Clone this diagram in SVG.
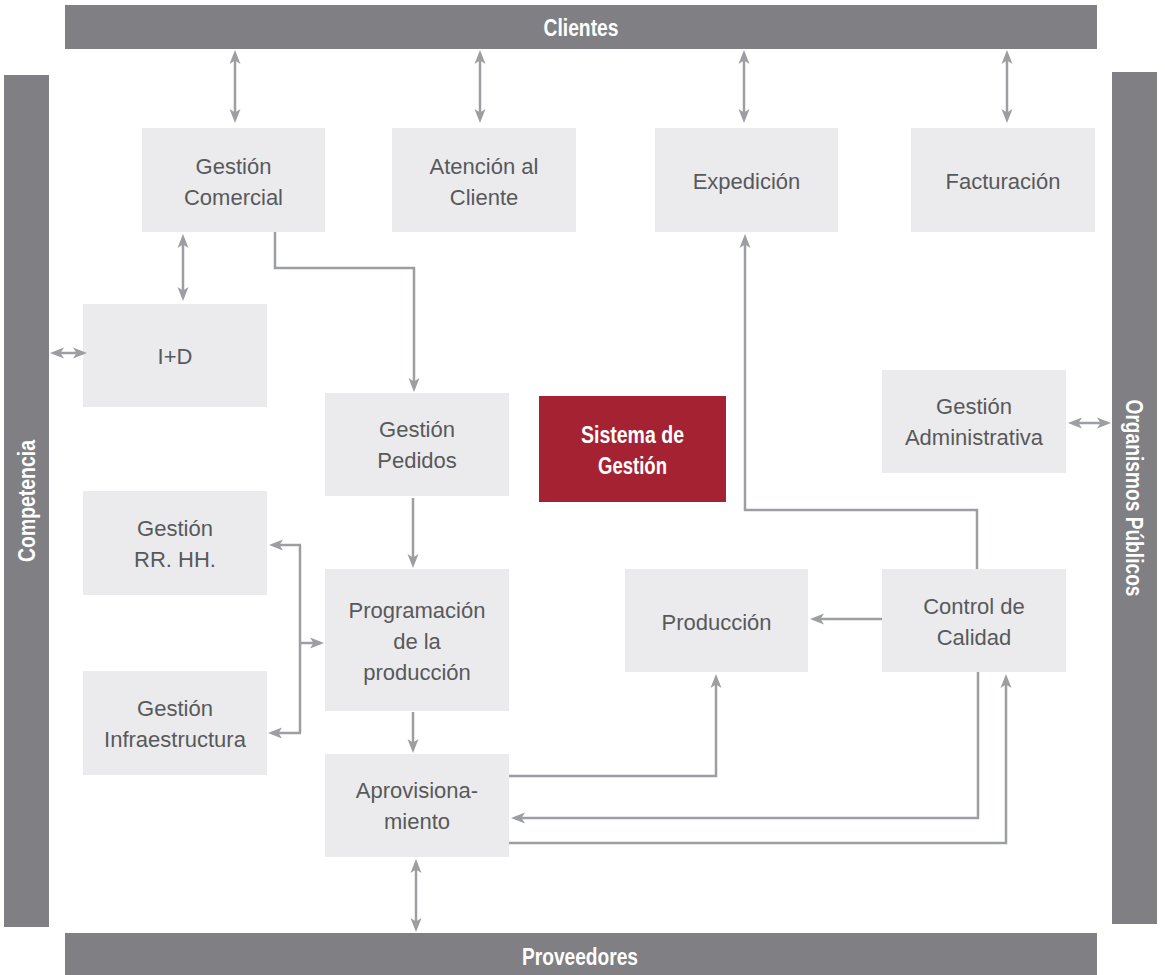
<svg xmlns="http://www.w3.org/2000/svg" width="1165" height="975" viewBox="0 0 1165 975">
<defs>
<style>
.bar{fill:#808084}
.box{fill:#ebebed}
.red{fill:#a52233}
.bt{font-family:"Liberation Sans",Arial,sans-serif;font-weight:bold;font-size:24px;fill:#ffffff;text-anchor:middle}
.nt{font-family:"Liberation Sans",Arial,sans-serif;font-size:22px;fill:#58595b;text-anchor:middle}
.st{font-family:"Liberation Sans",Arial,sans-serif;font-weight:bold;font-size:24px;fill:#ffffff;text-anchor:middle}
.c{fill:none;stroke:#9d9ea2;stroke-width:2.5}
.a{marker-end:url(#ah)}
.d{marker-start:url(#ah);marker-end:url(#ah)}
</style>
<marker id="ah" markerUnits="userSpaceOnUse" markerWidth="15" markerHeight="12" refX="10" refY="5.5" orient="auto-start-reverse" viewBox="0 0 15 11">
<path d="M0,0 L14,5.5 L0,11 L3.5,5.5 Z" fill="#9d9ea2"/>
</marker>
</defs>
<rect width="1165" height="975" fill="#ffffff"/>

<g id="clientes">
<rect class="bar" x="65" y="5" width="1032" height="44"/>
<text class="bt" x="581" y="36" textLength="75" lengthAdjust="spacingAndGlyphs">Clientes</text>
</g>
<g id="proveedores">
<rect class="bar" x="65" y="933" width="1032" height="42"/>
<text class="bt" x="580" y="965" textLength="116" lengthAdjust="spacingAndGlyphs">Proveedores</text>
</g>
<g id="competencia">
<rect class="bar" x="4" y="75" width="45" height="852"/>
<text class="bt" transform="translate(35,501) rotate(-90)" x="0" y="0" textLength="122" lengthAdjust="spacingAndGlyphs">Competencia</text>
</g>
<g id="organismos">
<rect class="bar" x="1112" y="72" width="45" height="852"/>
<text class="bt" transform="translate(1126,498) rotate(90)" x="0" y="0" textLength="197" lengthAdjust="spacingAndGlyphs">Organismos Públicos</text>
</g>

<g id="gestion-comercial">
<rect class="box" x="142" y="128" width="183" height="104"/>
<text class="nt" x="233.5" y="174">Gestión</text>
<text class="nt" x="233.5" y="205">Comercial</text>
</g>
<g id="atencion-cliente">
<rect class="box" x="392" y="128" width="184" height="104"/>
<text class="nt" x="484" y="174">Atención al</text>
<text class="nt" x="484" y="205">Cliente</text>
</g>
<g id="expedicion">
<rect class="box" x="655" y="128" width="183" height="104"/>
<text class="nt" x="746.5" y="189">Expedición</text>
</g>
<g id="facturacion">
<rect class="box" x="911" y="128" width="184" height="104"/>
<text class="nt" x="1003" y="189">Facturación</text>
</g>
<g id="id">
<rect class="box" x="83" y="304" width="184" height="103"/>
<text class="nt" x="175" y="364">I+D</text>
</g>
<g id="gestion-pedidos">
<rect class="box" x="325" y="393" width="184" height="103"/>
<text class="nt" x="417" y="437">Gestión</text>
<text class="nt" x="417" y="468">Pedidos</text>
</g>
<g id="sistema-gestion">
<rect class="red" x="539" y="396" width="187" height="106"/>
<text class="st" x="632.5" y="443" textLength="103" lengthAdjust="spacingAndGlyphs">Sistema de</text>
<text class="st" x="632.5" y="474" textLength="69" lengthAdjust="spacingAndGlyphs">Gestión</text>
</g>
<g id="gestion-administrativa">
<rect class="box" x="882" y="370" width="184" height="103"/>
<text class="nt" x="974" y="414">Gestión</text>
<text class="nt" x="974" y="445">Administrativa</text>
</g>
<g id="gestion-rrhh">
<rect class="box" x="83" y="491" width="184" height="104"/>
<text class="nt" x="175" y="536">Gestión</text>
<text class="nt" x="175" y="567">RR. HH.</text>
</g>
<g id="programacion">
<rect class="box" x="325" y="569" width="184" height="142"/>
<text class="nt" x="417" y="618">Programación</text>
<text class="nt" x="417" y="649">de la</text>
<text class="nt" x="417" y="680">producción</text>
</g>
<g id="produccion">
<rect class="box" x="625" y="569" width="183" height="103"/>
<text class="nt" x="716.5" y="630">Producción</text>
</g>
<g id="control-calidad">
<rect class="box" x="882" y="569" width="184" height="103"/>
<text class="nt" x="974" y="614">Control de</text>
<text class="nt" x="974" y="645">Calidad</text>
</g>
<g id="gestion-infraestructura">
<rect class="box" x="83" y="671" width="184" height="104"/>
<text class="nt" x="175" y="716">Gestión</text>
<text class="nt" x="175" y="747">Infraestructura</text>
</g>
<g id="aprovisionamiento">
<rect class="box" x="325" y="754" width="184" height="103"/>
<text class="nt" x="417" y="798">Aprovisiona-</text>
<text class="nt" x="417" y="829">miento</text>
</g>

<g id="connectors">
<path class="c d" d="M235,54 V119"/>
<path class="c d" d="M480,54 V119"/>
<path class="c d" d="M744,54 V119"/>
<path class="c d" d="M1007,54 V119"/>
<path class="c d" d="M183,238 V297"/>
<path class="c a" d="M275,232 V268 H414 V388"/>
<path class="c d" d="M54,353 H83"/>
<path class="c a" d="M413,498 V564"/>
<path class="c a" d="M413,712 V749"/>
<path class="c" d="M300,545 V733"/>
<path class="c a" d="M301,545 H273"/>
<path class="c a" d="M301,733 H272"/>
<path class="c a" d="M299,643 H320"/>
<path class="c a" d="M509,776 H716 V678"/>
<path class="c a" d="M978,672 V818 H515"/>
<path class="c a" d="M509,843 H1006 V678"/>
<path class="c a" d="M977,569 V510 H745 V238"/>
<path class="c a" d="M882,619 H814"/>
<path class="c d" d="M1072,423 H1107"/>
<path class="c d" d="M416,863 V928"/>
</g>
</svg>
